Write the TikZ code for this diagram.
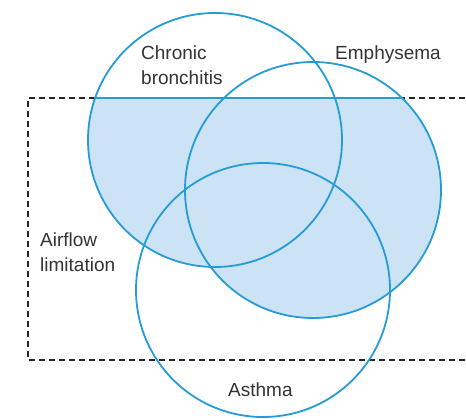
\documentclass[tikz,border=0pt]{standalone}
\usepackage{xcolor}
\usepackage{fontspec}
\setmainfont{Liberation Sans}
\usepackage{tikz}
\definecolor{ringblue}{RGB}{38,156,212}
\definecolor{fillblue}{RGB}{204,227,246}
\definecolor{textgray}{RGB}{51,51,51}

\begin{document}
\begin{tikzpicture}[x=1pt, y=-1pt,
        ring/.style={draw=ringblue, line width=1.8pt},
        border/.style={draw=black!85, line width=1.8pt, dash pattern=on 6pt off 4pt},
        lbl/.style={inner sep=0pt, text=textgray, align=left,
                    font=\fontsize{19}{25}\selectfont}
      ]
        \useasboundingbox (0,0) rectangle (466,419);
        % airflow limitation box
        \draw[border] (475,98) -- (28,98) -- (28,360) -- (475,360);
        % shaded part of bronchitis and emphysema
        \begin{scope}
          \clip (0,98) rectangle (466,419);
          \fill[fillblue] (215,140) circle (127) (313,190) circle (128);
        \end{scope}
        \coordinate (topl) at (95,98);
        \coordinate (topr) at (402,98);
        \draw[ring] (topl) -- (topr);
        % circles
        \draw[ring] (215,140) circle (127);
        \draw[ring] (313,190) circle (128);
        \draw[ring] (263,290) circle (127);
        % labels
        \node[lbl, anchor=base west] (cb)  at (141,85)  {Chronic\\bronchitis};
        \node[lbl, anchor=base west] (emp) at (335,60)  {Emphysema};
        \node[lbl, anchor=base west] (afl) at (40,272)  {Airflow\\limitation};
        \node[lbl, anchor=base west] (ast) at (228,397) {Asthma};
      \end{tikzpicture}
\end{document}
